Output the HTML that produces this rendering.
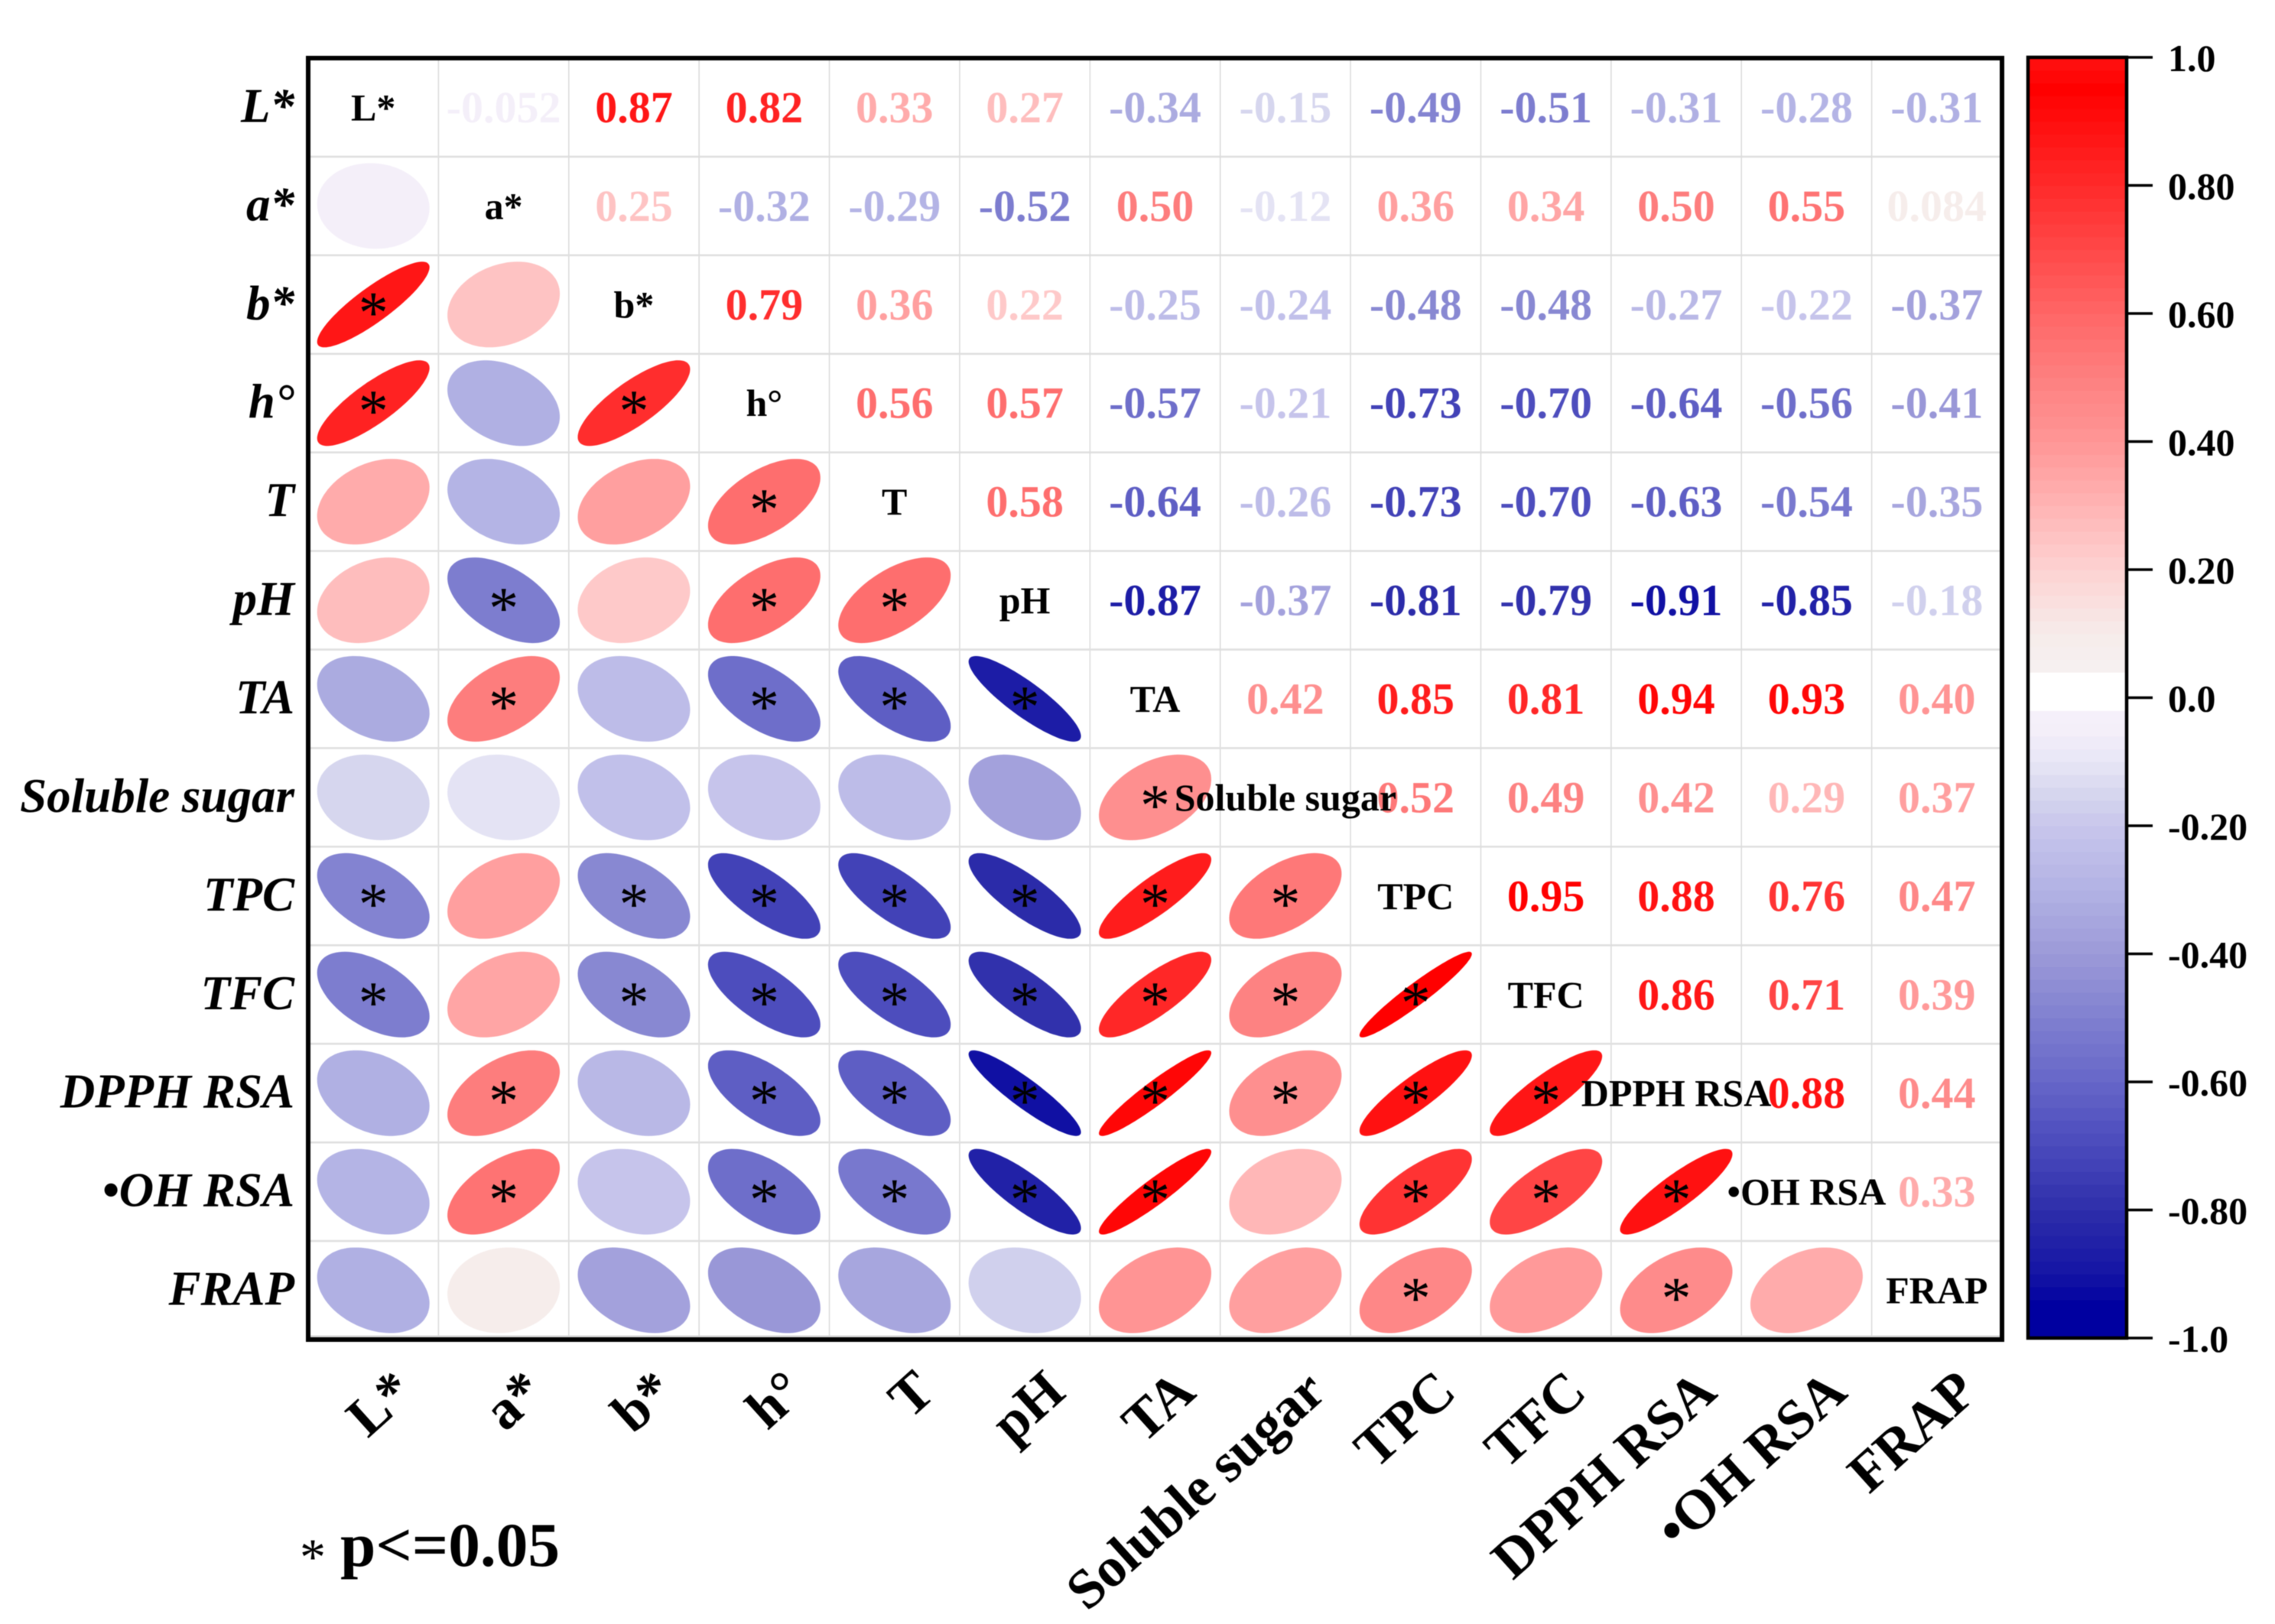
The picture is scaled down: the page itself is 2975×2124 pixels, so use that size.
<!DOCTYPE html>
<html lang="en">
<head>
<meta charset="utf-8">
<title>Correlation matrix</title>
<style>
html,body{margin:0;padding:0;background:#fff;width:2975px;height:2124px;overflow:hidden}
svg{display:block;font-family:"Liberation Serif",serif;filter:blur(0.6px)}
</style>
</head>
<body>
<svg id="chart" xmlns="http://www.w3.org/2000/svg" width="2975" height="2124" viewBox="0 0 2975 2124"></svg>
<script>
// ---------- data ----------
const variables = ["L*","a*","b*","h°","T","pH","TA","Soluble sugar","TPC","TFC","DPPH RSA","•OH RSA","FRAP"];
const rowL   = [-0.052,0.87,0.82,0.33,0.27,-0.34,-0.15,-0.49,-0.51,-0.31,-0.28,-0.31];
const rowA   = [0.25,-0.32,-0.29,-0.52,0.50,-0.12,0.36,0.34,0.50,0.55,0.084];
const rowB   = [0.79,0.36,0.22,-0.25,-0.24,-0.48,-0.48,-0.27,-0.22,-0.37];
const rowH   = [0.56,0.57,-0.57,-0.21,-0.73,-0.70,-0.64,-0.56,-0.41];
const rowT   = [0.58,-0.64,-0.26,-0.73,-0.70,-0.63,-0.54,-0.35];
const rowPH  = [-0.87,-0.37,-0.81,-0.79,-0.91,-0.85,-0.18];
const rowTA  = [0.42,0.85,0.81,0.94,0.93,0.40];
const rowSS  = [0.52,0.49,0.42,0.29,0.37];
const rowTPC = [0.95,0.88,0.76,0.47];
const rowTFC = [0.86,0.71,0.39];
const rowDPPH= [0.88,0.44];
const rowOH  = [0.33];
const upperRows = [rowL,rowA,rowB,rowH,rowT,rowPH,rowTA,rowSS,rowTPC,rowTFC,rowDPPH,rowOH];
// Significance marks for the lower triangle: one string per row, "1" = marked with an asterisk
const significantRows = ["","0","10","101","0001","01011","010111","0000001","10111111","101111111","0101111111","01011110111","000000001010"];
const colorbarTickValues = [1.0,0.8,0.6,0.4,0.2,0.0,-0.2,-0.4,-0.6,-0.8,-1.0];
const colorbarTickLabels = ["1.0","0.80","0.60","0.40","0.20","0.0","-0.20","-0.40","-0.60","-0.80","-1.0"];

// ---------- colour scale ----------
const colorStops = [
 [1.0,"#ff1212"],[0.95,"#ff0000"],[0.8,"#ff2a2a"],[0.6,"#ff6666"],[0.5,"#fd8080"],[0.4,"#ff9696"],[0.3,"#ffb4b4"],[0.2,"#fdd2d2"],[0.1,"#f6ecea"],[0.05,"#f6f0f0"],[0.041,"#f6f0f2"],[0.04,"#ffffff"],
 [-0.02,"#ffffff"],[-0.021,"#f6f1fa"],[-0.05,"#f4eff9"],[-0.1,"#e8e6f6"],[-0.15,"#d6d6ee"],[-0.2,"#c8c6ec"],[-0.3,"#b2b2e4"],[-0.4,"#9c9ad8"],[-0.5,"#8080d0"],[-0.6,"#6666c8"],[-0.7,"#4a4abc"],[-0.8,"#2e2eaa"],[-0.9,"#1414a4"],[-0.95,"#0000a0"],[-1.0,"#0000a0"]];
function hex(c){return [1,3,5].map(i=>parseInt(c.substr(i,2),16));}
function colorFor(v){
  const q=Math.min(0.99,Math.max(-0.99,Math.floor(v/0.02)*0.02+0.01));
  for(let i=0;i<colorStops.length-1;i++){
    const a=colorStops[i],b=colorStops[i+1];
    if(q<=a[0]&&q>=b[0]){
      const t=(a[0]-q)/(a[0]-b[0]),ca=hex(a[1]),cb=hex(b[1]);
      return "rgb("+ca.map((x,k)=>Math.round(x+(cb[k]-x)*t)).join(",")+")";
    }
  }
  return "#fff";
}

// ---------- axes ----------
const plotLeft=403,plotRight=2618,plotTop=76,plotBottom=1752;
const n=variables.length;
const cellW=(plotRight-plotLeft)/n,cellH=(plotBottom-plotTop)/n;
function xCenter(j){return plotLeft+cellW*(j+0.5);}
function yCenter(i){return plotTop+cellH*(i+0.5);}
const barLeft=2652,barRight=2781,barTop=75,barBottom=1750;
function yBar(v){return barTop+(1-v)/2*(barBottom-barTop);}

const svg=document.getElementById("chart");
const NS="http://www.w3.org/2000/svg";
function make(tag,attrs,parent,txt){
  const e=document.createElementNS(NS,tag);
  for(const k in attrs)e.setAttribute(k,attrs[k]);
  if(txt!==undefined)e.textContent=txt;
  (parent||svg).appendChild(e);
  return e;
}
function slug(s){return s.toLowerCase().replace("•","").replace("°","-hue").replace("*","-star").replace(/\s+/g,"-");}
function valueAt(i,j){const a=Math.min(i,j),b=Math.max(i,j);return upperRows[a][b-a-1];}
function fmt(v){return v.toPrecision(2);}

// ---------- grid ----------
let el;
const gridG=make("g",{});


for(let k=1;k<n;k++){
  el=make("line",{x1:plotLeft+k*cellW,x2:plotLeft+k*cellW,y1:plotTop,y2:plotBottom,stroke:"#dcdcdc","stroke-width":1.6},gridG);
  
  
  el=make("line",{x1:plotLeft,x2:plotRight,y1:plotTop+k*cellH,y2:plotTop+k*cellH,stroke:"#e0e0e0","stroke-width":2.6},gridG);
  
  
}
el=make("line",{x1:plotLeft,x2:plotRight,y1:plotBottom-4,y2:plotBottom-4,stroke:"#d8d8d8","stroke-width":3},gridG);



// ---------- ellipses (lower triangle) ----------
const rx=73.5,ry=56;
for(let i=1;i<n;i++){
  for(let j=0;j<i;j++){
    const r=valueAt(i,j),d=Math.acos(r),cx=xCenter(j),cy=yCenter(i);
    let p="";
    for(let t=0;t<96;t++){
      const a=t/96*2*Math.PI;
      p+=(t?"L":"M")+(cx+rx*Math.cos(a+d/2)).toFixed(1)+" "+(cy-ry*Math.cos(a-d/2)).toFixed(1);
    }
    el=make("path",{d:p+"Z",fill:colorFor(r)});
    
    
    if(significantRows[i][j]==="1"){
      el=make("text",{x:cx,y:cy+36.5,"text-anchor":"middle","font-size":78,fill:"#000"},svg,"*");
      
      
    }
  }
}

// ---------- printed values (upper triangle) ----------
for(let i=0;i<n;i++){
  for(let j=i+1;j<n;j++){
    const r=valueAt(i,j);
    el=make("text",{x:xCenter(j),y:yCenter(i)+19.5,"text-anchor":"middle","font-size":58,"font-weight":"bold",fill:colorFor(r)},svg,fmt(r));
    
    
  }
}

// ---------- diagonal labels ----------
for(let i=0;i<n;i++){
  el=make("text",{x:xCenter(i),y:yCenter(i)+17,"text-anchor":"middle","font-size":50,"font-weight":"bold",fill:"#000"},svg,variables[i]);
  
  
}

// ---------- frame ----------
el=make("rect",{x:plotLeft,y:plotTop,width:plotRight-plotLeft,height:plotBottom-plotTop,fill:"none",stroke:"#000","stroke-width":6});



// ---------- axis labels ----------
for(let i=0;i<n;i++){
  el=make("text",{x:385,y:yCenter(i)+19,"text-anchor":"end","font-size":63,"font-weight":"bold","font-style":"italic",fill:"#000"},svg,variables[i]);
  
  
  const ax=xCenter(i)+56,ay=1825;
  el=make("text",{x:ax,y:ay,"text-anchor":"end","font-size":73,"font-weight":"bold",fill:"#000",transform:"rotate(-42 "+ax+" "+ay+")"},svg,variables[i]);
  
  
}

// ---------- colour bar ----------
const barG=make("g",{});


for(let v=-1;v<0.9999;v+=0.02){
  const top=yBar(v+0.02),bot=yBar(v);
  el=make("rect",{x:barLeft,y:top,width:barRight-barLeft,height:bot-top+0.6,fill:colorFor(v+0.01)},barG);
  
  
}
el=make("rect",{x:barLeft,y:barTop,width:barRight-barLeft,height:barBottom-barTop,fill:"none",stroke:"#000","stroke-width":4.5},barG);


colorbarTickValues.forEach((v,k)=>{
  const y=yBar(v);
  el=make("line",{x1:barRight,x2:2815,y1:y,y2:y,stroke:"#000","stroke-width":3.5},barG);
  
  
  el=make("text",{x:2835,y:y+18,"font-size":50,"font-weight":"bold",fill:"#000"},barG,colorbarTickLabels[k]);
  
  
});

// ---------- significance legend ----------
el=make("text",{x:392,y:2059,"font-size":68,fill:"#000"},svg,"*");


el=make("text",{x:445,y:2048,"font-size":82,"font-weight":"bold",fill:"#000",textLength:287,lengthAdjust:"spacingAndGlyphs"},svg,"p<=0.05");


</script>
</body>
</html>
